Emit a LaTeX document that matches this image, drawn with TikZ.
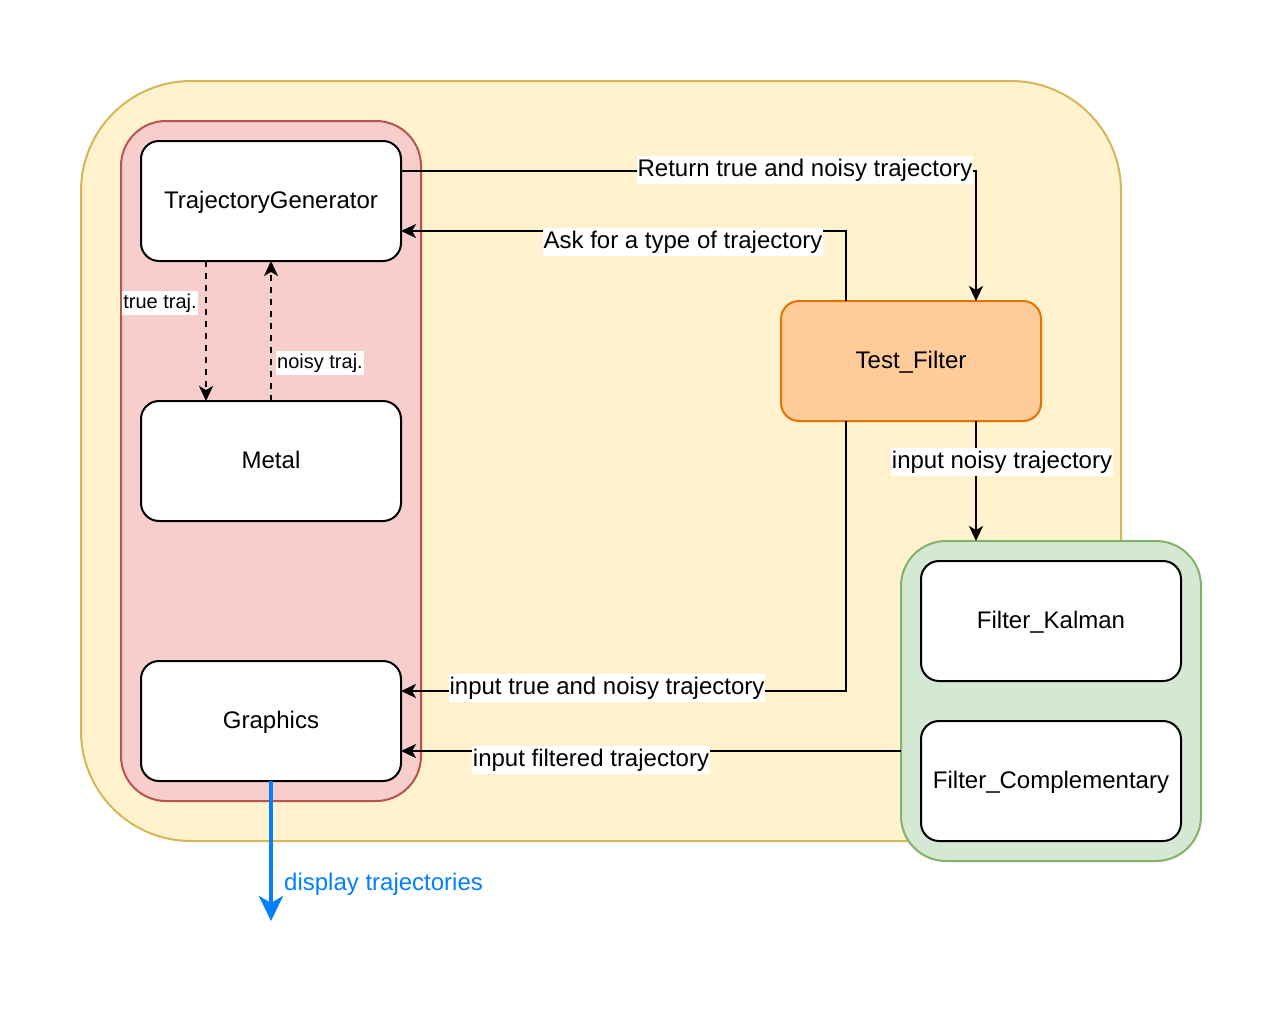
\documentclass[tikz,border=0pt]{standalone}
\usepackage{fontspec}
\setmainfont{Liberation Sans}
\usetikzlibrary{arrows.meta}
\definecolor{ylwF}{HTML}{FFF2CC}
\definecolor{ylwD}{HTML}{D6B656}
\definecolor{redF}{HTML}{F8CECC}
\definecolor{redD}{HTML}{B85450}
\definecolor{grnF}{HTML}{D5E8D4}
\definecolor{grnD}{HTML}{82B366}
\definecolor{orgF}{HTML}{FFCC99}
\definecolor{orgD}{HTML}{E57300}
\definecolor{blu}{HTML}{007FFF}
\tikzset{
  cont/.style={draw, line width=2pt, outer sep=0pt, inner sep=0pt},
  box/.style={draw=black, fill=white, line width=2pt, rounded corners=18pt,
    minimum width=260pt, minimum height=120pt, outer sep=0pt, inner sep=0pt,
    text height=19.5pt, text depth=4pt,
    font=\fontsize{24}{28}\selectfont},
  lbl/.style={fill=white, inner xsep=1pt, inner ysep=2pt, text height=18pt, text depth=5.5pt, font=\fontsize{24}{28}\selectfont},
  slbl/.style={fill=white, inner xsep=1pt, inner ysep=2pt, text height=15pt, text depth=4.6pt, font=\fontsize{20}{24}\selectfont},
  arr/.style={draw=black, line width=2pt, -{Stealth[length=15pt,width=14pt,inset=4pt]}},
  darr/.style={arr, dash pattern=on 6pt off 6pt},
  barr/.style={draw=blu, line width=4pt, -{Stealth[length=25pt,width=24pt,inset=7pt]}}
}
\begin{document}
\begin{tikzpicture}[x=1pt,y=-1pt]
\useasboundingbox (0,0) rectangle (1284,1020);
% containers
\node[cont, draw=ylwD, fill=ylwF, rounded corners=110pt, minimum width=1040pt, minimum height=760pt] (outer) at (601,461) {};
\node[cont, draw=redD, fill=redF, rounded corners=45pt, minimum width=300pt, minimum height=680pt] (redc) at (271,461) {};
\node[cont, draw=grnD, fill=grnF, rounded corners=45pt, minimum width=300pt, minimum height=320pt] (green) at (1051,701) {};
% boxes
\node[box] (tg) at (271,201) {TrajectoryGenerator};
\node[box] (metal) at (271,461) {Metal};
\node[box] (gr) at (271,721) {Graphics};
\node[box, draw=orgD, fill=orgF] (tf) at (911,361) {Test\_Filter};
\node[box] (fk) at (1051,621) {Filter\_Kalman};
\node[box] (fc) at (1051,781) {Filter\_Complementary};
% connectors
\draw[arr] ([yshift=30pt]tg.east) -| ([xshift=65pt]tf.north);
\node[lbl] (l1) at (805,170) {Return true and noisy trajectory};
\draw[arr] ([xshift=-65pt]tf.north) |- ([yshift=-30pt]tg.east);
\node[lbl] (l2) at (683,242) {Ask for a type of trajectory};
\draw[darr] ([xshift=-65pt]tg.south) -- ([xshift=-65pt]metal.north);
\node[slbl] (l3) at (160,303) {true traj.};
\draw[darr] (metal.north) -- (tg.south);
\node[slbl] (l4) at (320,363) {noisy traj.};
\draw[arr] ([xshift=65pt]tf.south) -- ([xshift=-75pt]green.north);
\node[lbl] (l5) at (1002,462) {input noisy trajectory};
\draw[arr] ([xshift=-65pt]tf.south) |- ([yshift=30pt]gr.east);
\node[lbl] (l6) at (607,688) {input true and noisy trajectory};
\draw[arr] ([yshift=-50pt]green.west) -- ([yshift=-30pt]gr.east);
\node[lbl] (l7) at (591,760) {input filtered trajectory};
\coordinate (disp) at (271,921);
\draw[barr] (gr.south) -- (disp);
\node[anchor=west, inner sep=0pt, text=blu, text height=18pt, text depth=5.5pt, font=\fontsize{24}{28}\selectfont] (l8) at (284,884) {display trajectories};
\end{tikzpicture}
\end{document}
